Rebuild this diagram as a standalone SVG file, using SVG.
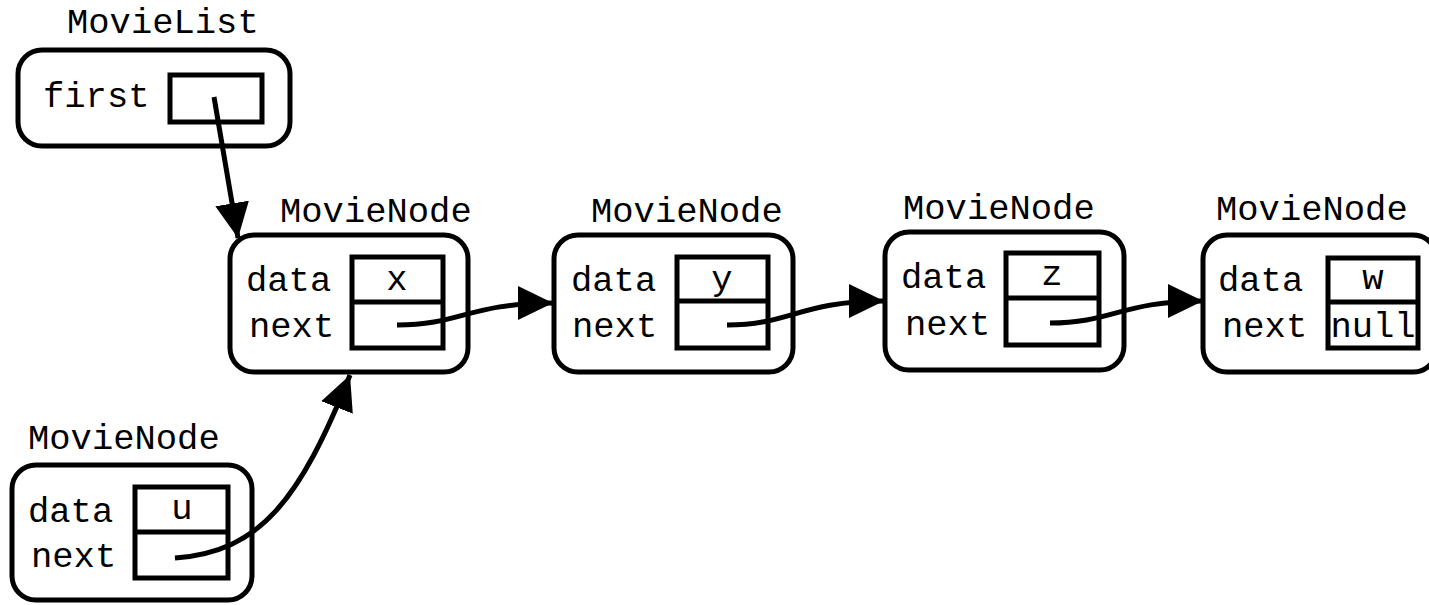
<svg xmlns="http://www.w3.org/2000/svg" width="1429" height="605" viewBox="0 0 1429 605">
  <style>
    .outer { fill: #fff; stroke: #000; stroke-width: 5; }
    .cell { fill: #fff; stroke: #000; stroke-width: 5; }
    .div { stroke: #000; stroke-width: 5; }
    .lbl { font-family: "Liberation Mono", "Courier New", monospace; font-size: 35.5px; fill: #000; }
    .mid { text-anchor: middle; }
    .link { fill: none; stroke: #000; stroke-width: 5; marker-end: url(#head); }
  </style>
  <defs>
    <marker id="head" markerUnits="userSpaceOnUse" markerWidth="36" markerHeight="34" refX="35" refY="17" orient="auto" viewBox="0 0 36 34">
      <path d="M0,0 L35,17 L0,34 z" fill="#000"/>
    </marker>
  </defs>

  <!-- MovieList -->
  <g id="movielist">
    <text class="lbl" x="67" y="33">MovieList</text>
    <rect class="outer" x="18" y="50" width="272" height="96" rx="24"/>
    <text class="lbl" x="43" y="107">first</text>
    <rect class="cell" x="170" y="75" width="92" height="47"/>
  </g>

  <!-- MovieNode holding x -->
  <g id="node-x">
    <text class="lbl" x="280" y="222">MovieNode</text>
    <rect class="outer" x="230" y="235" width="238" height="137" rx="24"/>
    <text class="lbl" x="246" y="291">data</text>
    <text class="lbl" x="249" y="337">next</text>
    <rect class="cell" x="352" y="257" width="91" height="91"/>
    <line class="div" x1="352" y1="302" x2="443" y2="302"/>
    <text class="lbl mid" x="397" y="290">x</text>
  </g>

  <!-- MovieNode holding y -->
  <g id="node-y">
    <text class="lbl" x="591" y="222">MovieNode</text>
    <rect class="outer" x="554" y="235" width="239" height="137" rx="24"/>
    <text class="lbl" x="571" y="291">data</text>
    <text class="lbl" x="572" y="337">next</text>
    <rect class="cell" x="677" y="257" width="91" height="91"/>
    <line class="div" x1="677" y1="301" x2="768" y2="301"/>
    <text class="lbl mid" x="722" y="290">y</text>
  </g>

  <!-- MovieNode holding z -->
  <g id="node-z">
    <text class="lbl" x="903" y="219">MovieNode</text>
    <rect class="outer" x="885" y="232" width="239" height="138" rx="24"/>
    <text class="lbl" x="901" y="288">data</text>
    <text class="lbl" x="905" y="335">next</text>
    <rect class="cell" x="1006" y="253" width="93" height="92"/>
    <line class="div" x1="1006" y1="298" x2="1099" y2="298"/>
    <text class="lbl mid" x="1052" y="285">z</text>
  </g>

  <!-- MovieNode holding w, end of list -->
  <g id="node-w">
    <text class="lbl" x="1216" y="220">MovieNode</text>
    <rect class="outer" x="1203" y="235" width="234" height="137" rx="24"/>
    <text class="lbl" x="1218" y="291">data</text>
    <text class="lbl" x="1222" y="337">next</text>
    <rect class="cell" x="1328" y="258" width="90" height="90"/>
    <line class="div" x1="1328" y1="302" x2="1418" y2="302"/>
    <text class="lbl mid" x="1373" y="289">w</text>
    <text class="lbl mid" x="1373" y="337">null</text>
  </g>

  <!-- Detached MovieNode holding u -->
  <g id="node-u">
    <text class="lbl" x="28" y="449">MovieNode</text>
    <rect class="outer" x="12" y="465" width="240" height="135" rx="24"/>
    <text class="lbl" x="28" y="522">data</text>
    <text class="lbl" x="31" y="567">next</text>
    <rect class="cell" x="135" y="487" width="93" height="91"/>
    <line class="div" x1="135" y1="532" x2="228" y2="532"/>
    <text class="lbl mid" x="182" y="519">u</text>
  </g>

  <!-- References -->
  <g id="connectors">
    <path class="link" d="M214,97 L238,238"/>
    <path class="link" d="M397,325 C460,325 470,303 553,303"/>
    <path class="link" d="M727,325 C790,325 800,301 884,301"/>
    <path class="link" d="M1050,323 C1112,323 1122,301 1203,301"/>
    <path class="link" d="M175,558 C260,552 300,500 350,375"/>
  </g>
</svg>
